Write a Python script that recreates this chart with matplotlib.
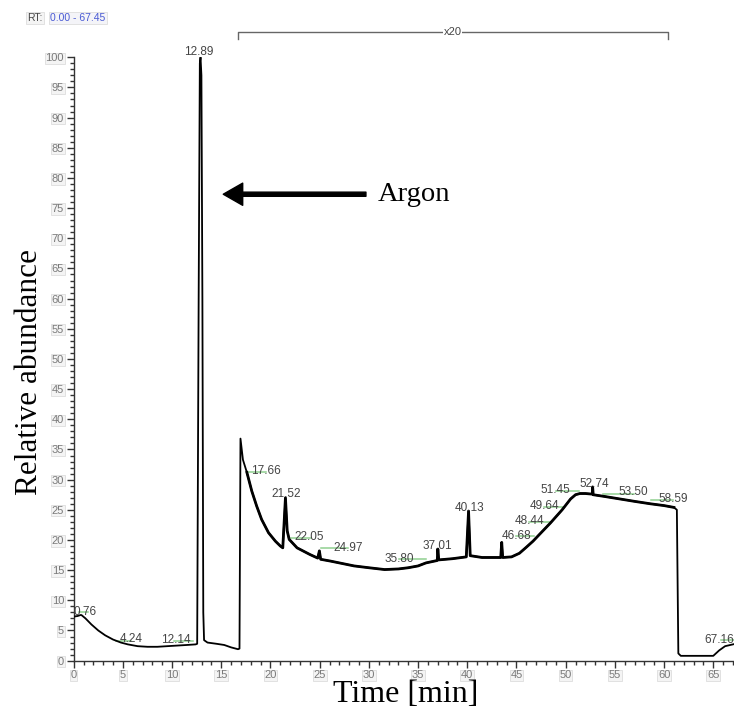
import matplotlib

matplotlib.use("Agg")
import matplotlib.pyplot as plt
import numpy as np

# chromatogram trace (time in min, relative abundance)
time_min = [
    0.0, 0.4, 0.76, 1.2, 1.8, 2.5, 3.2, 4.0, 4.8, 5.5, 6.5, 7.5, 8.5, 9.5,
    10.5, 11.5, 12.4, 12.55, 12.7, 12.82, 12.89, 12.98, 13.08, 13.17, 13.25,
    13.6, 14.5, 15.3, 16.0, 16.7, 16.85, 16.95, 17.2, 17.6, 18.1, 18.6, 19.1,
    19.8, 20.5, 21.0, 21.25, 21.52, 21.7, 21.9, 22.7, 24.0, 24.8, 24.97,
    25.1, 26.1, 28.5, 30.0, 31.6, 33.0, 34.0, 35.0, 35.8, 36.95, 37.01, 37.1,
    38.5, 39.9, 40.13, 40.3, 41.5, 43.4, 43.5, 43.6, 44.5, 45.3, 46.0, 46.68,
    47.5, 48.44, 49.64, 50.5, 51.0, 51.45, 52.0, 52.7, 52.74, 52.8, 54.0,
    55.5, 57.0, 58.6, 60.0, 61.0, 61.3, 61.45, 61.7, 65.0, 65.6, 66.2, 67.0,
    67.45,
]
abundance = [
    7.3, 7.4, 7.6, 7.0, 6.0, 5.0, 4.2, 3.5, 3.0, 2.7, 2.4, 2.3, 2.3, 2.4,
    2.5, 2.6, 2.7, 2.8, 60.0, 99.0, 100.0, 97.0, 60.0, 8.0, 3.4,
    3.0, 2.8, 2.6, 2.2, 1.9, 2.0, 36.8, 33.3, 31.2, 28.1, 25.6, 23.4,
    21.2, 19.8, 19.0, 18.7, 27.0, 21.5, 20.1, 18.7, 17.6, 17.0, 18.2,
    16.8, 16.5, 15.7, 15.4, 15.1, 15.2, 15.4, 15.7, 16.2, 16.6, 18.5, 16.7,
    16.9, 17.2, 24.8, 17.4, 17.1, 17.1, 19.6, 17.1, 17.2, 17.8, 18.8, 19.8,
    21.2, 22.8, 25.0, 26.8, 27.5, 27.7, 27.7, 27.6, 28.8, 27.5, 27.2,
    26.8, 26.4, 26.0, 25.7, 25.4, 25.0, 1.2, 0.8, 0.8, 1.7, 2.4, 2.7,
    2.9,
]

# peak labels: text, label x, label y, underline start, underline end, underline y
peak_labels = ["0.76", "4.24", "12.14", "17.66", "22.05", "24.97", "35.80",
               "46.68", "48.44", "49.64", "51.45", "53.50", "58.59", "67.16"]
label_x = [1.2, 5.8, 10.4, 19.5, 23.9, 27.9, 33.1,
           45.0, 46.3, 47.8, 49.0, 56.9, 60.9, 65.6]
label_y = [8.8, 4.3, 4.1, 32.2, 21.2, 19.4, 17.6,
           21.4, 23.9, 26.4, 29.0, 28.7, 27.5, 4.1]
line_start = [0.5, 4.3, 10.2, 17.7, 22.1, 25.1, 33.1,
              45.0, 46.3, 47.8, 49.0, 53.8, 58.7, 65.8]
line_end = [1.5, 5.8, 12.1, 19.5, 24.1, 27.9, 35.8,
            46.8, 48.5, 49.7, 51.4, 56.9, 60.9, 67.45]
line_y = [8.0, 3.3, 3.2, 31.2, 20.4, 18.6, 16.9,
          20.7, 22.9, 25.5, 28.2, 27.7, 26.7, 3.5]

# labels without underline
plain_labels = ["12.89", "21.52", "37.01", "40.13", "52.74"]
plain_x = [12.7, 21.6, 37.0, 40.2, 52.9]
plain_y = [101.6, 28.4, 19.7, 26.0, 30.0]

t = np.array(time_min)
a = np.array(abundance)

fig = plt.figure(figsize=(7.34, 7.13), dpi=100)
ax = fig.add_axes([0.1004, 0.0734, 0.9042, 0.8463])

ax.plot(t, a, color="black", lw=1.3, zorder=3)
scaled = (t >= 17.4) & (t <= 61.2)
ax.plot(t[scaled], a[scaled], color="black", lw=2.0, zorder=3)

label_font = dict(fontsize=8.5, color="#444444", family="Liberation Sans",
                  ha="center", va="bottom")
for txt, lx, ly, x0, x1, yy in zip(peak_labels, label_x, label_y,
                                    line_start, line_end, line_y):
    ax.plot([x0, x1], [yy, yy], color="#8fd08f", lw=1.1, zorder=2,
            clip_on=False)
    ax.text(lx, ly - 1.7, txt, zorder=4, clip_on=False, **label_font)
for txt, lx, ly in zip(plain_labels, plain_x, plain_y):
    ax.text(lx, ly - 1.7, txt, zorder=4, clip_on=False, **label_font)

# x20 bracket
ax.plot([16.7, 16.7, 60.4, 60.4], [103.0, 104.2, 104.2, 103.0],
        color="#666666", lw=1.0, clip_on=False)
ax.text(38.5, 104.2, "x20", fontsize=8, color="#444444",
        family="Liberation Sans", ha="center", va="center",
        bbox=dict(facecolor="white", edgecolor="none", pad=0.5))

# Argon arrow
ax.annotate("", xy=(15.2, 77.3), xytext=(29.7, 77.3),
            arrowprops=dict(facecolor="black", edgecolor="black", width=3,
                            headwidth=16, headlength=14, shrink=0))
ax.text(30.9, 77.3, "Argon", fontsize=20.5, family="Liberation Serif",
        ha="left", va="center")

ax.set_xlim(0, 67.45)
ax.set_ylim(0, 100)
ax.set_xticks(np.arange(0, 66, 5))
ax.set_xticks(np.arange(0, 68, 1), minor=True)
ax.set_yticks(np.arange(0, 101, 5))
ax.set_yticks(np.arange(0, 101, 1), minor=True)
ax.tick_params(which="major", length=5, width=1, color="#333333",
               labelsize=8, labelcolor="#7a7a7a", pad=2)
ax.tick_params(which="minor", length=3, width=1, color="#333333")
for lab in ax.get_xticklabels() + ax.get_yticklabels():
    lab.set_family("Liberation Sans")
    lab.set_bbox(dict(facecolor="#f4f4f4", edgecolor="#dddddd", pad=0.5,
                      lw=0.6))
for side in ["top", "right"]:
    ax.spines[side].set_visible(False)
for side in ["left", "bottom"]:
    ax.spines[side].set_color("#333333")
    ax.spines[side].set_linewidth(1.0)

fig.text(30 / 734, 1 - 372 / 713, "Relative abundance", rotation=90,
         fontsize=22.5, family="Liberation Serif", ha="center", va="center")
fig.text(406 / 734, 1 - 695 / 713, "Time [min]", fontsize=23,
         family="Liberation Serif", ha="center", va="center")

fig.text(27 / 734, 1 - 18 / 713, "RT:", fontsize=7.5, color="#444444",
         family="Liberation Sans", ha="left", va="center",
         bbox=dict(facecolor="#f4f4f4", edgecolor="#dddddd", pad=1, lw=0.6))
fig.text(50 / 734, 1 - 18 / 713, "0.00 - 67.45", fontsize=7.5,
         color="#4a5bd4", family="Liberation Sans", ha="left", va="center",
         bbox=dict(facecolor="#f4f4f8", edgecolor="#dddddd", pad=1, lw=0.6))

fig.savefig("out.png", dpi=100)
plt.close(fig)
